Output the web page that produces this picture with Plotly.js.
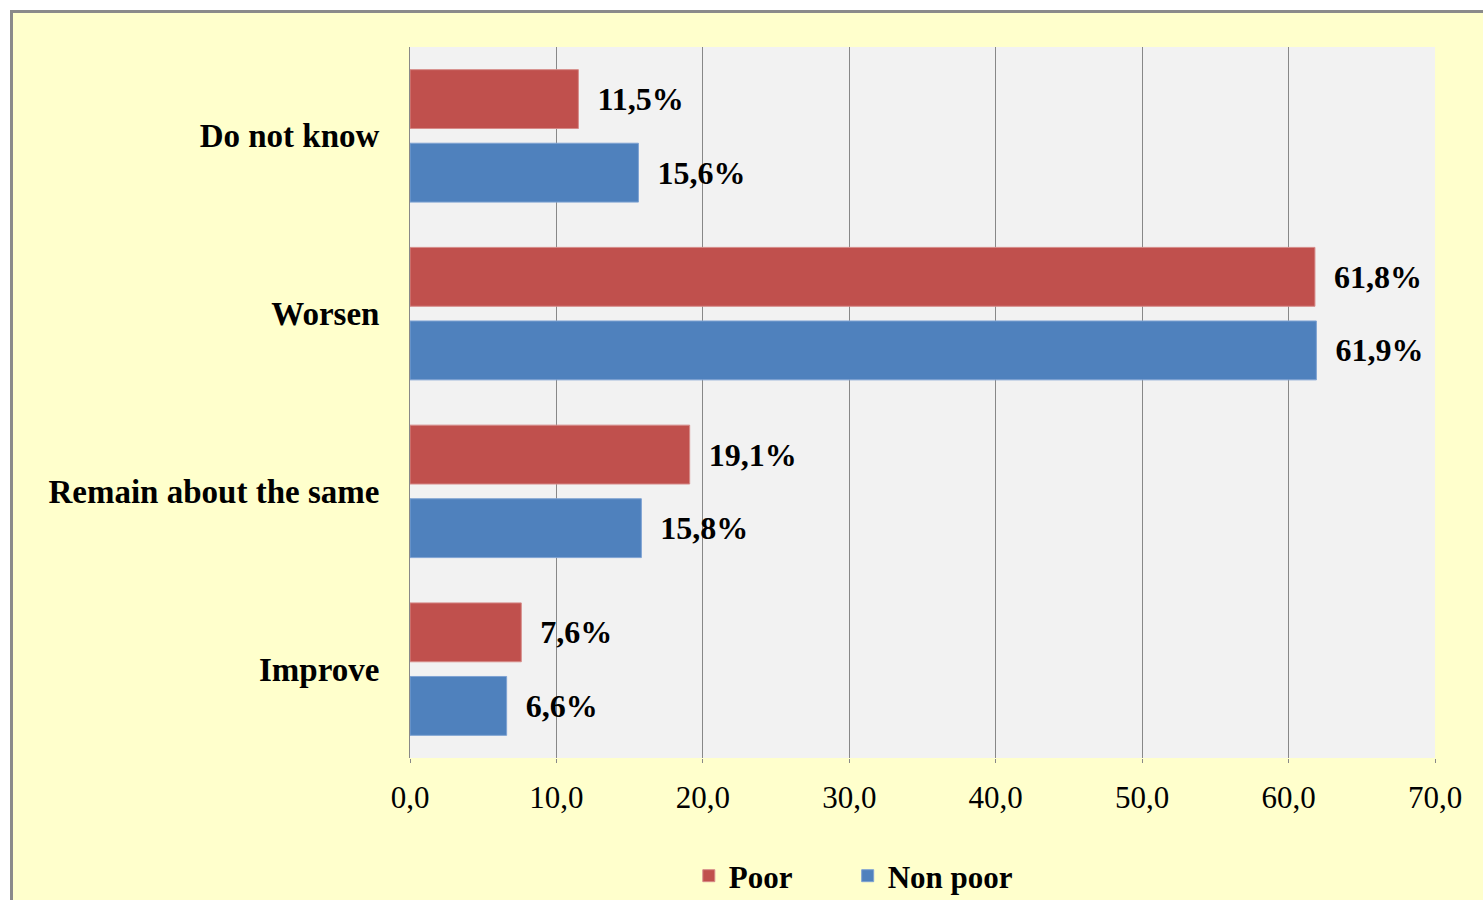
<!DOCTYPE html>
<html>
<head>
<meta charset="utf-8">
<script src="https://cdn.plot.ly/plotly-3.0.1.min.js"></script>
<style>
  html, body { margin: 0; padding: 0; background: #ffffff; overflow: hidden; }
  #frame { position: absolute; left: 10px; top: 10px; width: 1473px; height: 890px;
           border-left: 3px solid #8a8a8a; border-top: 3px solid #8a8a8a; background: #FFFFCC; overflow: hidden; }
  #chart { width: 1470px; height: 887px; }
</style>
</head>
<body>
<div id="frame"><div id="chart"></div></div>
<script>
const categories = ['Improve', 'Remain about the same', 'Worsen', 'Do not know'];
const poorValues = [7.6, 19.1, 61.8, 11.5];
const nonPoorValues = [6.6, 15.8, 61.9, 15.6];
const poorLabels = ['7,6%', '19,1%', '61,8%', '11,5%'];
const nonPoorLabels = ['6,6%', '15,8%', '61,9%', '15,6%'];
const xTickValues = [0, 10, 20, 30, 40, 50, 60, 70];
const xTickLabels = ['0,0', '10,0', '20,0', '30,0', '40,0', '50,0', '60,0', '70,0'];

const FONT = 'Liberation Serif, Times New Roman, serif';
const pad = '\u00a0\u00a0';
const legendFont = { family: FONT, size: 31, color: '#000', weight: 'bold' };

const traces = [
  {
    type: 'bar', orientation: 'h', name: 'Non poor', legend: 'legend2',
    y: categories, x: nonPoorValues,
    text: nonPoorLabels.map(t => pad + t), textposition: 'outside',
    textfont: { family: FONT, size: 32, color: '#000', weight: 'bold' },
    constraintext: 'none', cliponaxis: false,
    marker: { color: '#4F81BD', line: { color: '#7FA3D3', width: 1 } },
    hoverinfo: 'skip'
  },
  {
    type: 'bar', orientation: 'h', name: 'Poor', legend: 'legend',
    y: categories, x: poorValues,
    text: poorLabels.map(t => pad + t), textposition: 'outside',
    textfont: { family: FONT, size: 32, color: '#000', weight: 'bold' },
    constraintext: 'none', cliponaxis: false,
    marker: { color: '#C0504D', line: { color: '#D68B89', width: 1 } },
    hoverinfo: 'skip'
  }
];

const layout = {
  width: 1470, height: 887,
  margin: { l: 397, r: 48, t: 34, b: 142, autoexpand: false },
  paper_bgcolor: '#FFFFCC',
  plot_bgcolor: '#F2F2F2',
  barmode: 'group',
  bargap: 0.172,
  bargroupgap: 0.2,
  font: { family: FONT, color: '#000' },
  showlegend: true,
  legend: {
    orientation: 'h', x: 0.272, xanchor: 'left', y: -0.166, yanchor: 'middle',
    font: legendFont, bgcolor: 'rgba(0,0,0,0)', itemwidth: 30
  },
  legend2: {
    orientation: 'h', x: 0.427, xanchor: 'left', y: -0.166, yanchor: 'middle',
    font: legendFont, bgcolor: 'rgba(0,0,0,0)', itemwidth: 30
  },
  xaxis: {
    range: [0, 70], tickvals: xTickValues, ticktext: xTickLabels,
    showgrid: true, gridcolor: '#888888', gridwidth: 1,
    zeroline: false, showline: false,
    ticks: 'outside', ticklen: 4, tickcolor: '#888888',
    ticklabelstandoff: 8,
    tickfont: { family: FONT, size: 31, color: '#000' },
    fixedrange: true
  },
  yaxis: {
    type: 'category', categoryorder: 'array', categoryarray: categories,
    showgrid: false, zeroline: false,
    showline: true, linecolor: '#888888', linewidth: 1,
    ticks: '', ticklabelstandoff: 23,
    tickfont: { family: FONT, size: 33, color: '#000', weight: 'bold' },
    fixedrange: true
  }
};

Plotly.newPlot('chart', traces, layout, { displayModeBar: false, staticPlot: true });
</script>
</body>
</html>
